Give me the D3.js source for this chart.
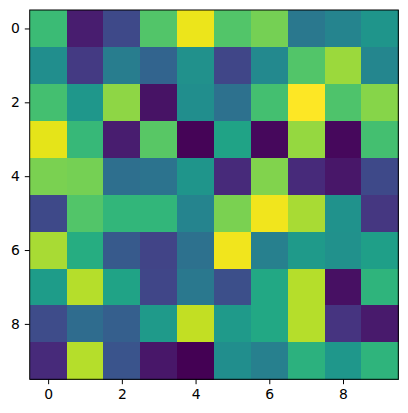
<!DOCTYPE html>
<html>
<head>
<meta charset="utf-8">
<script src="https://cdn.jsdelivr.net/npm/d3@7"></script>
<style>
body { margin: 0; background: #fff; }
svg text { font-family: "DejaVu Sans", sans-serif; }
</style>
</head>
<body>
<div id="chart"></div>
<script>
const rows = d3.range(10);
const cols = d3.range(10);
const tickValues = [0, 2, 4, 6, 8];

// cell values (normalised 0..1), one array per row
const row0 = [0.68, 0.08, 0.22, 0.73, 0.97, 0.73, 0.79, 0.40, 0.45, 0.52];
const row1 = [0.49, 0.17, 0.42, 0.32, 0.50, 0.21, 0.47, 0.73, 0.85, 0.46];
const row2 = [0.70, 0.53, 0.83, 0.05, 0.49, 0.37, 0.70, 1.00, 0.72, 0.82];
const row3 = [0.96, 0.67, 0.08, 0.74, 0.01, 0.58, 0.02, 0.84, 0.02, 0.70];
const row4 = [0.80, 0.79, 0.36, 0.38, 0.52, 0.12, 0.81, 0.12, 0.06, 0.22];
const row5 = [0.22, 0.73, 0.66, 0.66, 0.45, 0.80, 0.98, 0.87, 0.51, 0.16];
const row6 = [0.87, 0.62, 0.28, 0.20, 0.37, 0.98, 0.43, 0.54, 0.50, 0.56];
const row7 = [0.55, 0.89, 0.58, 0.21, 0.40, 0.24, 0.60, 0.89, 0.04, 0.65];
const row8 = [0.23, 0.35, 0.30, 0.54, 0.91, 0.54, 0.60, 0.89, 0.15, 0.07];
const row9 = [0.12, 0.89, 0.26, 0.06, 0.00, 0.49, 0.43, 0.64, 0.53, 0.65];
const values = [row0, row1, row2, row3, row4, row5, row6, row7, row8, row9];

const width = 408;
const height = 413;
const margin = {top: 10, right: 9.7, bottom: 33.7, left: 29.7};

const svg = d3.select('#chart')
  .append('svg')
  .attr('width', width)
  .attr('height', height);

const x = d3.scaleLinear()
  .domain([-0.5, 9.5])
  .range([margin.left, width - margin.right]);

const y = d3.scaleLinear()
  .domain([-0.5, 9.5])
  .range([margin.top, height - margin.bottom]);

const color = d3.scaleSequential(d3.interpolateViridis)
  .domain([d3.min(values.flat()), d3.max(values.flat())]);

const cells = [];
rows.forEach(r => cols.forEach(c => cells.push({r, c, v: values[r][c]})));

svg.append('g')
  .selectAll('rect')
  .data(cells)
  .join('rect')
  .attr('x', d => x(d.c - 0.5))
  .attr('y', d => y(d.r - 0.5))
  .attr('width', d => x(d.c + 0.5) - x(d.c - 0.5) + 0.3)
  .attr('height', d => y(d.r + 0.5) - y(d.r - 0.5) + 0.3)
  .attr('fill', d => color(d.v))
  .attr('shape-rendering', 'crispEdges');

svg.append('rect')
  .attr('x', x(-0.5))
  .attr('y', y(-0.5))
  .attr('width', x(9.5) - x(-0.5))
  .attr('height', y(9.5) - y(-0.5))
  .attr('fill', 'none')
  .attr('stroke', '#000')
  .attr('stroke-width', 1);

function xAxis(g) {
  g.attr('transform', `translate(0, ${y(9.5)})`)
    .call(d3.axisBottom(x).tickValues(tickValues).tickSize(4.9).tickPadding(4.9).tickFormat(d3.format('d')))
    .attr('font-size', '13.9px');
  g.select('.domain').remove();
  g.selectAll('text').attr('fill', '#000');
}

function yAxis(g) {
  g.attr('transform', `translate(${x(-0.5)}, 0)`)
    .call(d3.axisLeft(y).tickValues(tickValues).tickSize(4.9).tickPadding(4.9).tickFormat(d3.format('d')))
    .attr('font-size', '13.9px');
  g.select('.domain').remove();
  g.selectAll('text').attr('fill', '#000');
}

svg.append('g').call(xAxis);
svg.append('g').call(yAxis);
</script>
</body>
</html>
